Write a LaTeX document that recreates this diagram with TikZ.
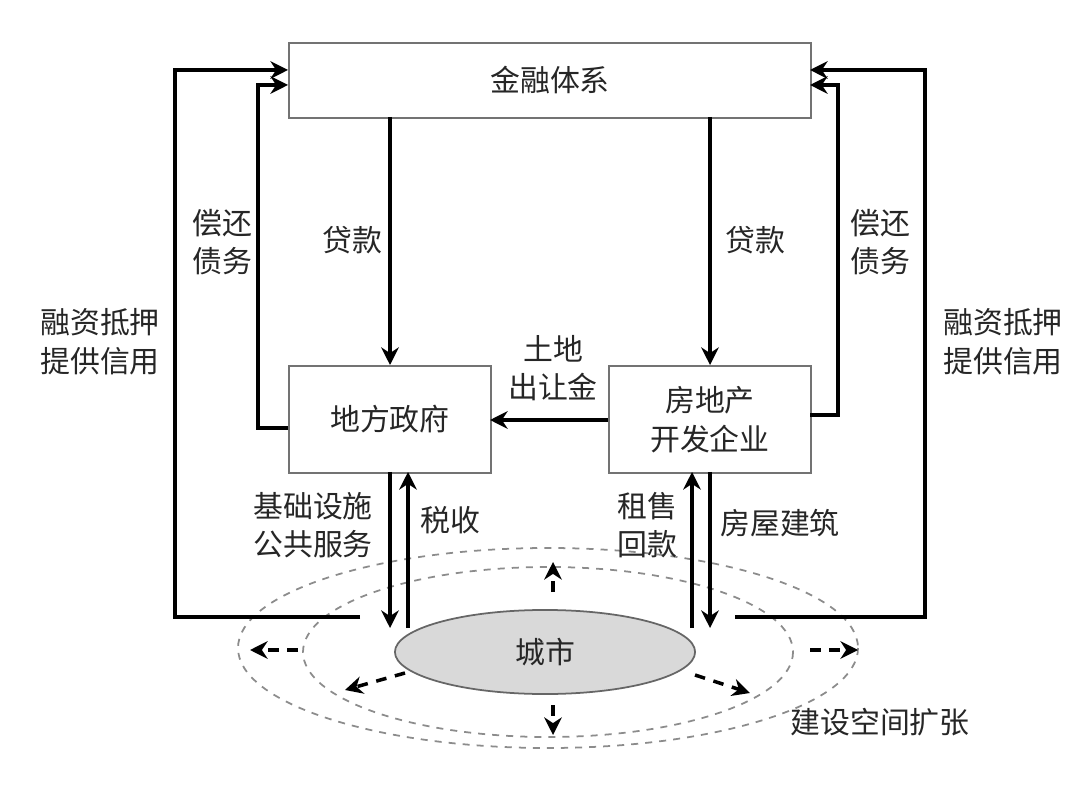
\documentclass[tikz,border=0pt]{standalone}
\usepackage{fontspec}
\setmainfont{Noto Sans CJK SC}
\usetikzlibrary{arrows.meta,shapes.geometric}
\begin{document}
\begin{tikzpicture}[x=0.01cm,y=-0.01cm,
  box/.style={draw=black!55,line width=0.5pt,fill=white,inner sep=0pt},
  flow/.style={line width=1pt,-{Stealth[length=5pt,width=5pt]}},
  dflow/.style={line width=1pt,dash pattern=on 3pt off 2.5pt,-{Stealth[length=5pt,width=5pt]}},
  lbl/.style={font=\fontsize{8.5pt}{11pt}\selectfont,align=center,text=black!85},
  ring/.style={draw=black!45,line width=0.5pt,dash pattern=on 2pt off 2pt}]
\useasboundingbox (0,0) rectangle (1080,789);
\node[box,minimum width=5.22cm,minimum height=0.75cm,anchor=north west] (fin) at (288,42) {};
\node[lbl] at (fin.center) {金融体系};
\node[box,minimum width=2.02cm,minimum height=1.07cm,anchor=north west] (gov) at (288,365) {};
\node[lbl] at (gov.center) {地方政府};
\node[box,minimum width=2.02cm,minimum height=1.07cm,anchor=north west] (dev) at (608,365) {};
\node[lbl] at (dev.center) {房地产\\开发企业};
% city rings
\draw[ring] (548,648) ellipse (310 and 100);
\draw[ring] (548,652) ellipse (245 and 85);
\node[draw=black!60,fill=black!15,ellipse,minimum width=3.0cm,minimum height=0.84cm,line width=0.5pt] (city) at (545,652) {};
\node[lbl] at (city.center) {城市};
% loans
\draw[flow] (390,117) -- (gov.north -| 390,0);
\draw[flow] (710,117) -- (dev.north -| 710,0);
\node[lbl] at (352,240) {贷款};
\node[lbl] at (755,240) {贷款};
% repay
\coordinate (gl) at (288,428);
\coordinate (dr) at (810,415);
\draw[flow] (gl) -- (258,428) -- (258,85) -- (288,85);
\draw[flow] (dr) -- (838,415) -- (838,85) -- (810,85);
\node[lbl] at (222,242) {偿还\\债务};
\node[lbl] at (880,242) {偿还\\债务};
% financing
\coordinate (cl) at (360,617);
\coordinate (cr) at (735,617);
\draw[flow] (cl) -- (175,617) -- (175,70) -- (288,70);
\draw[flow] (cr) -- (925,617) -- (925,70) -- (810,70);
\node[lbl] at (100,342) {融资抵押\\提供信用};
\node[lbl] at (1003,342) {融资抵押\\提供信用};
% land
\draw[flow] (608,420) -- (490,420);
\node[lbl] at (553,368) {土地\\出让金};
% vertical
\coordinate (c1) at (390,628);
\coordinate (c2) at (408,628);
\coordinate (c3) at (692,628);
\coordinate (c4) at (710,628);
\draw[flow] (390,472) -- (c1);
\draw[flow] (c2) -- (408,472);
\draw[flow] (c3) -- (692,472);
\draw[flow] (710,472) -- (c4);
\node[lbl] at (313,525) {基础设施\\公共服务};
\node[lbl] at (450,520) {税收};
\node[lbl] at (647,525) {租售\\回款};
\node[lbl] at (780,523) {房屋建筑};
% expansion
\draw[dflow] (553,592) -- (553,562);
\draw[dflow] (553,705) -- (553,735);
\draw[dflow] (298,650) -- (250,650);
\draw[dflow] (810,650) -- (858,650);
\draw[dflow] (405,673) -- (345,690);
\draw[dflow] (695,675) -- (750,693);
\node[lbl] at (880,722) {建设空间扩张};
\end{tikzpicture}
\end{document}
